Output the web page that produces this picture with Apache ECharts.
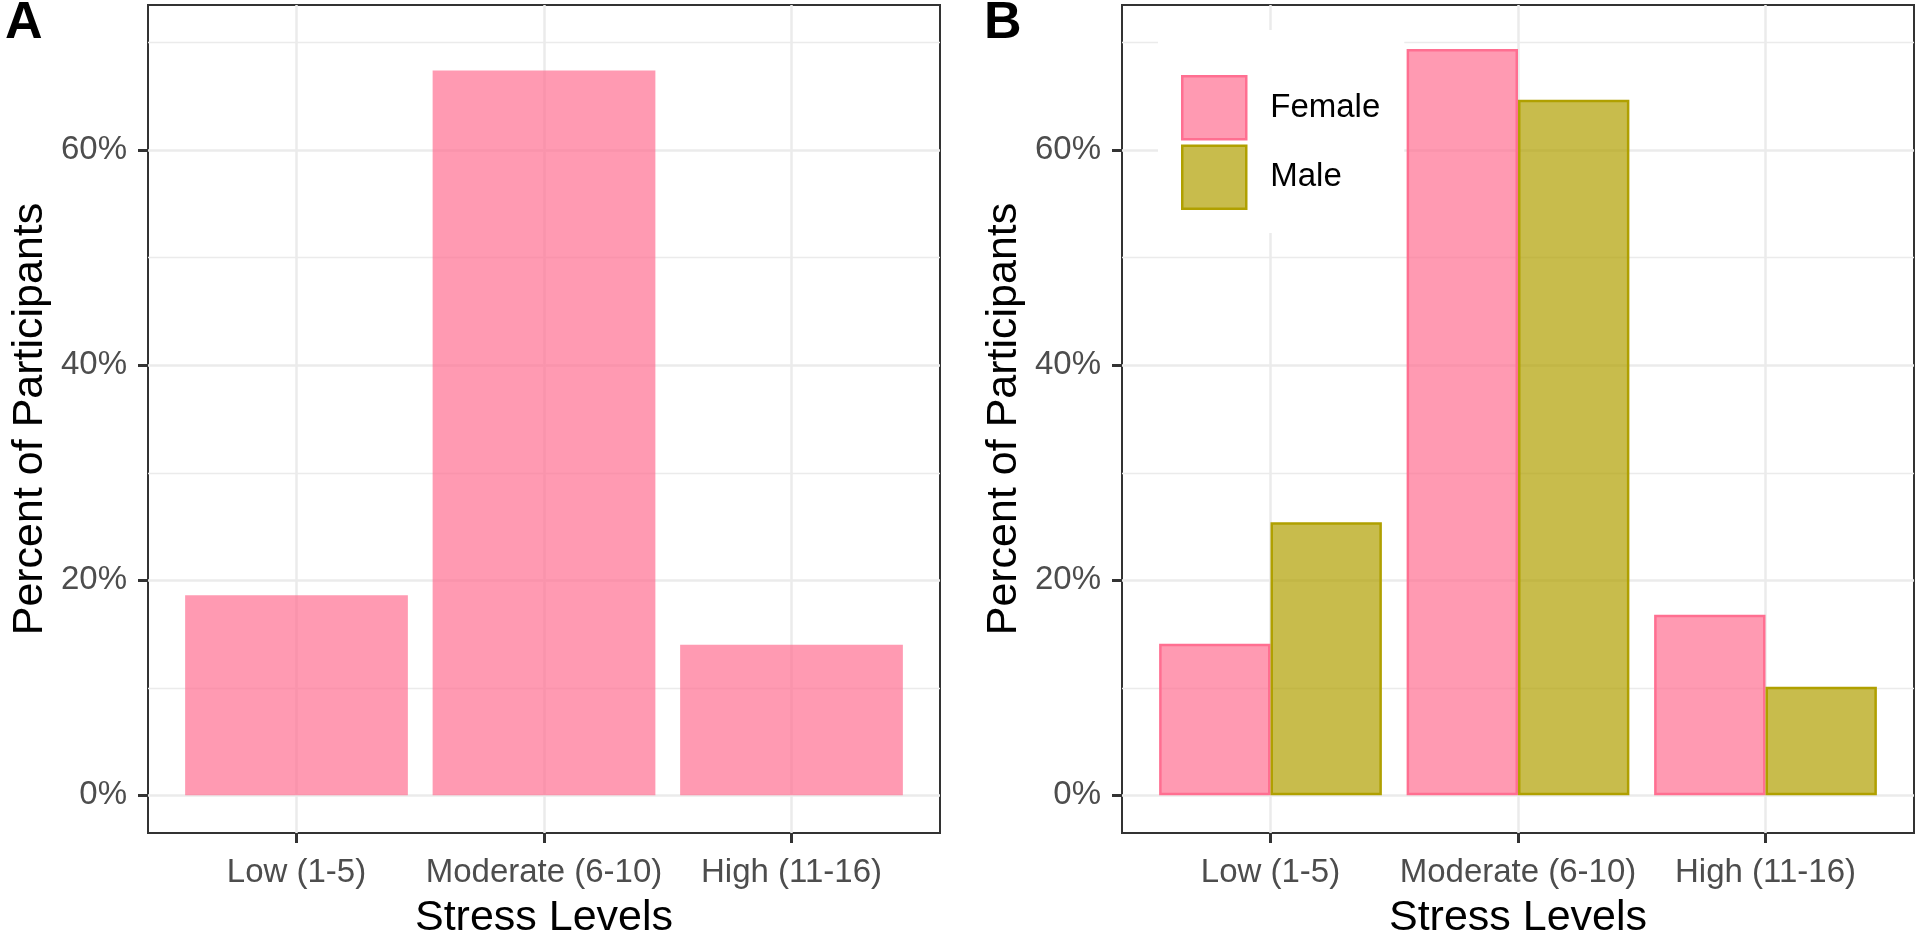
<!DOCTYPE html>
<html>
<head>
<meta charset="utf-8">
<title>Stress Levels</title>
<script src="https://cdn.jsdelivr.net/npm/echarts@6.0.0/dist/echarts.min.js"></script>
<style>
    html, body { margin: 0; padding: 0; background: #fff; }
    #chart { width: 1920px; height: 935px; }
</style>
</head>
<body>
<div id="chart"></div>
<script>
'use strict';

// data
const stressLevels = ['Low (1-5)', 'Moderate (6-10)', 'High (11-16)'];
const overallPct = [18.6, 67.4, 14.0];
const femalePct = [14.1, 69.4, 16.8];
const malePct = [25.4, 64.7, 10.1];
const majorTicks = [0, 20, 40, 60];
const minorTicks = [10, 30, 50, 70];
const categoryPos = stressLevels.map((s, i) => i + 1);

const FONT = 'Liberation Sans, Arial, sans-serif';
const PINK = '#FF6F91';
const PINK_FILL = 'rgba(255,111,145,0.7)';
const OLIVE = '#B0A000';
const OLIVE_FILL = 'rgba(176,160,0,0.7)';

let toPairs = function (values) {
    return values.map((v, i) => [categoryPos[i], v]);
};

let makeGrid = function (left) {
    return {
        left: left, top: 5, width: 792, height: 828,
        outerBoundsMode: 'none', containLabel: false,
        show: true, borderColor: '#333333', borderWidth: 2,
        backgroundColor: 'transparent'
    };
};

let makeXAxis = function (gridIndex) {
    return {
        type: 'value', gridIndex: gridIndex, position: 'bottom',
        min: 0.4, max: 3.6,
        axisLine: { show: false, onZero: false },
        axisTick: {
            customValues: categoryPos, length: 10,
            lineStyle: { color: '#333333', width: 3 }
        },
        axisLabel: {
            customValues: categoryPos, margin: 23,
            fontSize: 33, color: '#4D4D4D', fontFamily: FONT,
            formatter: v => stressLevels[Math.round(v) - 1]
        },
        splitLine: { show: true, lineStyle: { color: '#EBEBEB', width: 2.5 } },
        name: 'Stress Levels', nameLocation: 'middle', nameGap: 64,
        nameTextStyle: { fontSize: 43, color: '#000', fontFamily: FONT }
    };
};

let makeYAxes = function (gridIndex) {
    return [{
        type: 'value', gridIndex: gridIndex, position: 'left',
        min: -3.5, max: 73.5,
        axisLine: { show: false, onZero: false },
        axisTick: {
            customValues: majorTicks, length: 10,
            lineStyle: { color: '#333333', width: 3 }
        },
        axisLabel: {
            customValues: majorTicks, margin: 21,
            fontSize: 33, color: '#4D4D4D', fontFamily: FONT,
            formatter: '{value}%'
        },
        splitLine: { show: true, lineStyle: { color: '#EBEBEB', width: 2.5 } },
        name: 'Percent of Participants', nameLocation: 'middle', nameGap: 96,
        nameTextStyle: { fontSize: 43, color: '#000', fontFamily: FONT }
    }, {
        // minor grid lines only
        type: 'value', gridIndex: gridIndex, position: 'right',
        min: -3.5, max: 73.5,
        axisLine: { show: false, onZero: false },
        axisTick: { show: false, customValues: minorTicks },
        axisLabel: { show: false, customValues: minorTicks },
        splitLine: { show: true, lineStyle: { color: '#EBEBEB', width: 1.4 } }
    }];
};

let chart = echarts.init(document.getElementById('chart'));

let option = {
    animation: false,
    textStyle: { fontFamily: FONT },
    title: [
        { text: 'A', left: 5, top: -2, padding: 0,
          textStyle: { fontSize: 52, fontWeight: 'bold', color: '#000', fontFamily: FONT } },
        { text: 'B', left: 984, top: -2, padding: 0,
          textStyle: { fontSize: 52, fontWeight: 'bold', color: '#000', fontFamily: FONT } }
    ],
    legend: {
        data: [{ name: 'Female', icon: 'rect' }, { name: 'Male', icon: 'rect' }],
        orient: 'vertical',
        left: 1158, top: 30,
        itemWidth: 64, itemHeight: 63, itemGap: 4,
        padding: [45, 24, 23, 23],
        backgroundColor: '#fff',
        selectedMode: false,
        itemStyle: { borderWidth: 2.5 },
        textStyle: { fontSize: 33, color: '#000', fontFamily: FONT, padding: [0, 0, 0, 19] }
    },
    grid: [makeGrid(148), makeGrid(1122)],
    xAxis: [makeXAxis(0), makeXAxis(1)],
    yAxis: makeYAxes(0).concat(makeYAxes(1)),
    series: [{
        name: 'All', type: 'bar',
        xAxisIndex: 0, yAxisIndex: 0,
        barCategoryGap: '10%',
        itemStyle: { color: PINK_FILL },
        data: toPairs(overallPct)
    }, {
        name: 'Female', type: 'bar',
        xAxisIndex: 1, yAxisIndex: 2,
        barGap: '0%', barCategoryGap: '10%',
        itemStyle: { color: PINK_FILL, borderColor: PINK, borderWidth: 2.5 },
        data: toPairs(femalePct)
    }, {
        name: 'Male', type: 'bar',
        xAxisIndex: 1, yAxisIndex: 2,
        barGap: '0%', barCategoryGap: '10%',
        itemStyle: { color: OLIVE_FILL, borderColor: OLIVE, borderWidth: 2.5 },
        data: toPairs(malePct)
    }]
};

chart.setOption(option);
</script>
</body>
</html>
